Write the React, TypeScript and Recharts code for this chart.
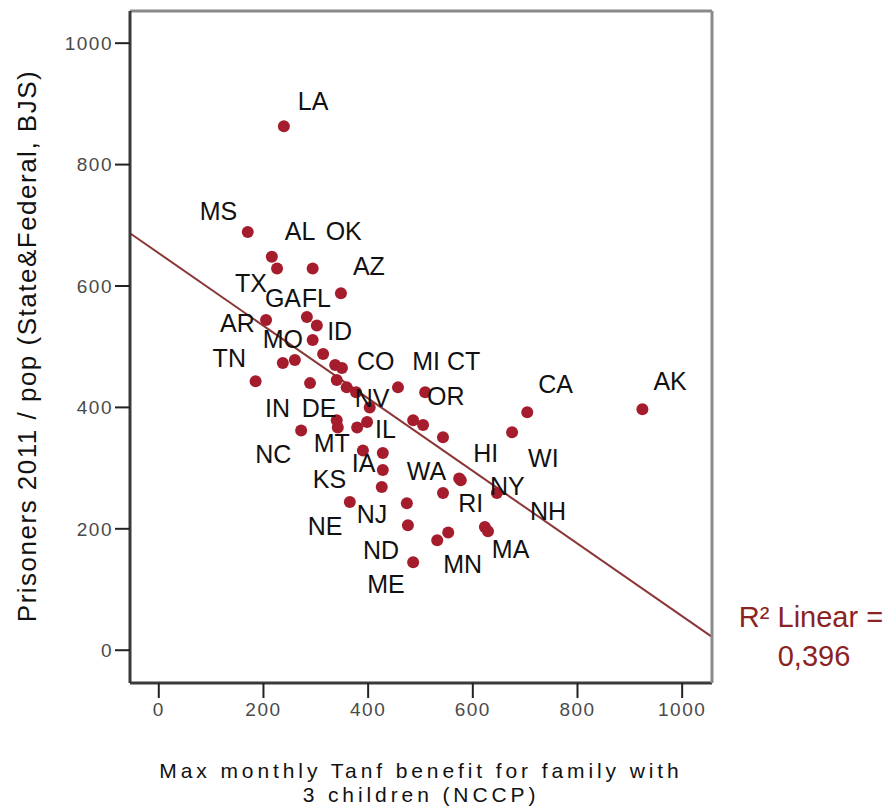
import React from 'react';
import { ScatterChart, Scatter, XAxis, YAxis, ReferenceLine, Label } from 'recharts';

// ---- data ----
const states = [
  'LA', 'MS', 'AL', 'TX', 'OK', 'AZ', 'GA', 'FL', 'AR', 'MO',
  'ID', 'VA', 'SD', 'SC', 'KY', 'TN', 'IN', 'DE', 'OH', 'PA',
  'NV', 'CO', 'MI', 'WV', 'MT', 'WY', 'IL', 'NC', 'UT', 'OR',
  'CT', 'CA', 'WI', 'AK', 'NM', 'KS', 'IA', 'NJ', 'NE', 'WA',
  'ND', 'ME', 'MN', 'RI', 'VT', 'HI', 'NY', 'MA', 'NH', 'MD',
];
const tanfBenefit = [
  239, 170, 216, 226, 294, 348, 283, 302, 205, 294,
  314, 337, 350, 237, 260, 185, 289, 340, 359, 377,
  403, 457, 509, 340, 342, 379, 398, 272, 486, 505,
  543, 704, 675, 924, 390, 428, 428, 426, 365, 474,
  476, 486, 532, 553, 543, 574, 646, 623, 629, 577,
];
const prisonersPerPop = [
  863, 689, 648, 629, 629, 588, 549, 535, 544, 511,
  488, 470, 465, 473, 478, 443, 440, 445, 433, 425,
  400, 433, 425, 379, 367, 367, 376, 362, 379, 371,
  351, 392, 359, 397, 329, 325, 297, 269, 244, 242,
  206, 145, 181, 194, 259, 283, 259, 203, 196, 280,
];
const labelledStates = [
  'LA', 'MS', 'AL', 'OK', 'AZ', 'TX', 'GA', 'FL', 'AR', 'ID', 'MO', 'TN', 'CO', 'MI', 'CT',
  'NV', 'OR', 'IN', 'DE', 'IL', 'MT', 'NC', 'IA', 'KS', 'HI', 'WA', 'NY', 'RI', 'NJ', 'NE',
  'ND', 'MN', 'ME', 'MA', 'CA', 'AK', 'WI', 'NH',
];
const xTicks = [0, 200, 400, 600, 800, 1000];
const yTicks = [0, 200, 400, 600, 800, 1000];
const fitIntercept = 654;
const fitSlope = -0.598;
const r2Text = '0,396';

const xTitleLines = ['Max monthly Tanf benefit for family with', '3 children (NCCP)'];
const yTitle = 'Prisoners 2011 / pop (State&Federal, BJS)';

// ---- layout / style configuration ----
const X_DOMAIN: [number, number] = [-55, 1057];
const Y_DOMAIN: [number, number] = [-54, 1053];
// label offset (px) from the dot: [left edge dx, baseline dy]
const LABEL_OFFSET: Record<string, [number, number]> = {
  LA: [14, -16], MS: [-48, -12], AL: [13, -17], OK: [13, -28], AZ: [12, -18], TX: [-42, 24],
  GA: [-42, -10], FL: [-15, -18], AR: [-46, 12], ID: [4, -14], MO: [-50, 8], TN: [-43, -14],
  CO: [-41, -17], MI: [-13, -22], CT: [4, -67], NV: [-15, 0], OR: [4, -20], IN: [-45, 34],
  DE: [-35, 37], IL: [8, 16], MT: [-24, 25], NC: [-46, 33], IA: [-31, 2], KS: [-70, 35],
  HI: [14, -16], WA: [0, -23], NY: [-7, 2], RI: [10, -20], NJ: [-25, 36], NE: [-42, 33],
  ND: [-45, 34], MN: [6, 33], ME: [-46, 31], MA: [7, 31], CA: [11, -19], AK: [11, -19],
  WI: [16, 35], NH: [42, -11],
};
const FONT = '"Liberation Sans", Arial, sans-serif';
const DOT = '#a51d2d';
const FIT = '#8b3535';

const data = states.map((s, i) => ({ state: s, x: tanfBenefit[i], y: prisonersPerPop[i] }));
const labelData = data.filter((d) => labelledStates.includes(d.state));

const renderDot = (p: any) => <circle cx={p.cx} cy={p.cy} r={6} fill={DOT} />;
const renderLabel = (p: any) => {
  const off = LABEL_OFFSET[p.payload.state] || [6, -6];
  return (
    <text x={p.cx + off[0]} y={p.cy + off[1]} fontSize={25} fontFamily={FONT} fill="#111">
      {p.payload.state}
    </text>
  );
};

const YTitle = (props: any) => {
  const vb = props.viewBox || { x: 0, y: 11, width: 130, height: 672 };
  const cx = vb.x + 36;
  const cy = vb.y + vb.height / 2 - 1;
  return (
    <text x={cx} y={cy} transform={`rotate(-90 ${cx} ${cy})`} textAnchor="middle" fontSize={26}
      letterSpacing={1.5} fontFamily={FONT} fill="#111">
      {yTitle}
    </text>
  );
};

const XTitle = (props: any) => {
  const vb = props.viewBox || { x: 130, y: 683, width: 582, height: 125 };
  const cx = vb.x + vb.width / 2;
  return (
    <text textAnchor="middle" fontSize={21} letterSpacing={3.9} fontFamily={FONT} fill="#111">
      <tspan x={cx} y={vb.y + 95}>{xTitleLines[0]}</tspan>
      <tspan x={cx} y={vb.y + 119}>{xTitleLines[1]}</tspan>
    </text>
  );
};

const R2Label = (props: any) => {
  const vb = props.viewBox || { x: 712, y: 11, width: 181, height: 672 };
  const cx = vb.x + 99;
  return (
    <text textAnchor="middle" fontSize={29} fontFamily={FONT} fill="#8b2323">
      <tspan x={cx} y={vb.y + 616}>{'R\u00B2 Linear ='}</tspan>
      <tspan x={cx + 3} y={vb.y + 655}>{r2Text}</tspan>
    </text>
  );
};

const tickStyle = { fontSize: 19, fill: '#4a4a4a', fontFamily: FONT, letterSpacing: 1.5 };

export default function App() {
  return (
    <div style={{ position: 'absolute', left: 0, top: 0, width: 893, height: 808, background: '#fff' }}>
      <ScatterChart width={893} height={808} margin={{ top: 0, right: 0, bottom: 0, left: 0 }}>
        <XAxis
          xAxisId="b"
          type="number"
          dataKey="x"
          domain={X_DOMAIN}
          allowDataOverflow
          ticks={xTicks}
          height={125}
          tickSize={15}
          tickMargin={5}
          axisLine={{ stroke: '#3a3a3a', strokeWidth: 3 }}
          tickLine={{ stroke: '#222', strokeWidth: 2 }}
          tick={tickStyle}
          label={<Label content={<XTitle />} />}
        />
        <XAxis
          xAxisId="t"
          orientation="top"
          type="number"
          domain={X_DOMAIN}
          allowDataOverflow
          height={11}
          tick={false}
          tickLine={false}
          axisLine={{ stroke: '#8a8a8a', strokeWidth: 3 }}
        />
        <YAxis
          yAxisId="l"
          type="number"
          dataKey="y"
          domain={Y_DOMAIN}
          allowDataOverflow
          ticks={yTicks}
          width={130}
          tickSize={15}
          tickMargin={2}
          axisLine={{ stroke: '#3a3a3a', strokeWidth: 3 }}
          tickLine={{ stroke: '#222', strokeWidth: 2 }}
          tick={tickStyle}
          label={<Label content={<YTitle />} />}
        />
        <YAxis
          yAxisId="r"
          orientation="right"
          type="number"
          domain={Y_DOMAIN}
          allowDataOverflow
          width={181}
          tick={false}
          tickLine={false}
          axisLine={{ stroke: '#8a8a8a', strokeWidth: 3 }}
          label={<Label content={<R2Label />} />}
        />
        <ReferenceLine
          xAxisId="b"
          yAxisId="l"
          segment={[
            { x: X_DOMAIN[0], y: fitIntercept + fitSlope * X_DOMAIN[0] },
            { x: X_DOMAIN[1], y: fitIntercept + fitSlope * X_DOMAIN[1] },
          ]}
          stroke={FIT}
          strokeWidth={2}
        />
        <Scatter xAxisId="b" yAxisId="l" data={data} shape={renderDot} isAnimationActive={false} />
        <Scatter xAxisId="b" yAxisId="l" data={labelData} shape={renderLabel} isAnimationActive={false} />
      </ScatterChart>
    </div>
  );
}
